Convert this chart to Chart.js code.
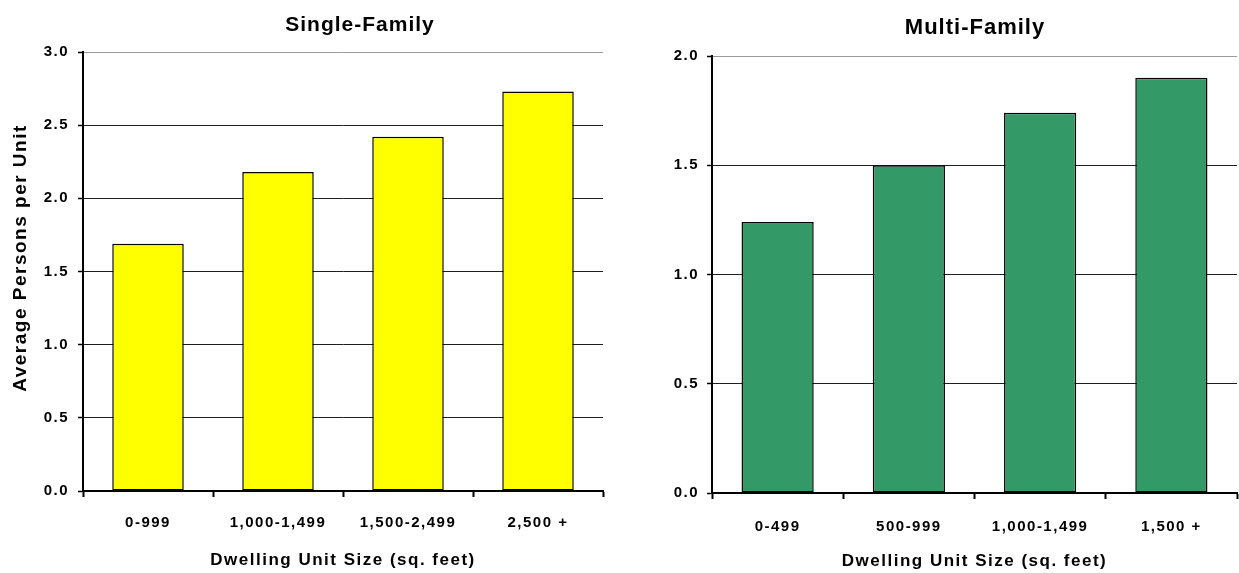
<!DOCTYPE html>
<html>
<head>
<meta charset="utf-8">
<script src="https://cdn.jsdelivr.net/npm/chart.js@4.4.1/dist/chart.umd.min.js"></script>
<style>
  html, body { margin: 0; padding: 0; background: #fff; width: 1239px; height: 573px; overflow: hidden; }
  .panel { position: absolute; top: 0; height: 573px; }
</style>
</head>
<body>
<div class="panel" style="left:0;width:620px"><canvas id="single" width="620" height="573"></canvas></div>
<div class="panel" style="left:620px;width:619px"><canvas id="multi" width="619" height="573"></canvas></div>
<script>
// Average persons per dwelling unit, by unit size
const singleFamilySizes = ['0-999', '1,000-1,499', '1,500-2,499', '2,500 +'];
const singleFamilyPersons = [1.69, 2.18, 2.42, 2.73];
const singleFamilyTicks = [0, 0.5, 1.0, 1.5, 2.0, 2.5, 3.0];

const multiFamilySizes = ['0-499', '500-999', '1,000-1,499', '1,500 +'];
const multiFamilyPersons = [1.24, 1.50, 1.74, 1.90];
const multiFamilyTicks = [0, 0.5, 1.0, 1.5, 2.0];

const FONT = "'Liberation Sans', Arial, Helvetica, sans-serif";
Chart.defaults.font.family = FONT;
Chart.defaults.font.weight = 'bold';
Chart.defaults.color = '#000';

// Slightly tracked lettering for all chart text
const tracking = {
  id: 'tracking',
  beforeDraw(chart) { chart.ctx.letterSpacing = '1.5px'; }
};

// Panel heading and the vertical value-axis caption
const panelText = {
  id: 'panelText',
  afterDraw(chart, args, opts) {
    const ctx = chart.ctx;
    (opts.items || []).forEach(it => {
      ctx.save();
      ctx.letterSpacing = it.spacing;
      ctx.font = 'bold ' + it.size + 'px ' + FONT;
      ctx.fillStyle = '#000';
      ctx.textAlign = 'center';
      ctx.textBaseline = 'middle';
      ctx.translate(it.x, it.y);
      if (it.rotate) ctx.rotate(it.rotate);
      ctx.fillText(it.text, 0, 0);
      ctx.restore();
    });
  }
};

function makeChart(id, cfg) {
  const top = cfg.ticks[cfg.ticks.length - 1];
  return new Chart(document.getElementById(id), {
    type: 'bar',
    data: {
      labels: cfg.labels,
      datasets: [{
        data: cfg.values,
        backgroundColor: cfg.color,
        borderColor: '#000',
        borderWidth: 1.5,
        borderSkipped: false,
        barPercentage: 0.55,
        categoryPercentage: 1.0
      }]
    },
    options: {
      responsive: false,
      animation: false,
      devicePixelRatio: 1,
      layout: { padding: { top: cfg.top, right: cfg.right, left: 0, bottom: 0 } },
      plugins: {
        legend: { display: false },
        tooltip: { enabled: false },
        panelText: { items: cfg.texts }
      },
      scales: {
        x: {
          offset: true,
          grid: {
            offset: true,
            drawOnChartArea: true,
            color: c => (c.index === cfg.labels.length ? '#9a9a9a' : 'rgba(0,0,0,0)'),
            lineWidth: 1,
            tickColor: '#000',
            tickLength: 6,
            tickWidth: 2
          },
          border: { display: true, color: '#000', width: 2 },
          ticks: {
            color: '#000',
            font: { size: 15, weight: 'bold' },
            padding: cfg.xTickPad,
            maxRotation: 0,
            autoSkip: false
          },
          title: {
            display: true,
            text: 'Dwelling Unit Size (sq. feet)',
            color: '#000',
            font: { size: 17, weight: 'bold' },
            padding: { top: 0, bottom: cfg.xTitlePad }
          },
          afterFit: s => { s.height = cfg.xHeight; }
        },
        y: {
          min: 0,
          max: top,
          afterBuildTicks: s => { s.ticks = cfg.ticks.map(v => ({ value: v })); },
          grid: {
            color: c => (c.tick && c.tick.value === top ? '#9a9a9a' : '#1e1e1e'),
            lineWidth: 1,
            tickColor: '#000',
            tickLength: 5,
            tickWidth: 1.5
          },
          border: { display: true, color: '#000', width: 2 },
          ticks: {
            color: '#000',
            font: { size: 15, weight: 'bold' },
            padding: cfg.yTickPad,
            callback: v => Number(v).toFixed(1)
          },
          afterFit: s => { s.width = cfg.yWidth; }
        }
      }
    },
    plugins: [tracking, panelText]
  });
}

makeChart('single', {
  labels: singleFamilySizes,
  values: singleFamilyPersons,
  ticks: singleFamilyTicks,
  color: '#ffff00',
  texts: [
    { text: 'Single-Family', x: 360, y: 25, size: 21, spacing: '1px' },
    { text: 'Average Persons per Unit', x: 21, y: 258, size: 19, spacing: '1.5px', rotate: -Math.PI / 2 }
  ],
  top: 52, right: 17, yWidth: 83, xHeight: 82,
  xTickPad: 17, xTitlePad: 2, yTickPad: 9
});

makeChart('multi', {
  labels: multiFamilySizes,
  values: multiFamilyPersons,
  ticks: multiFamilyTicks,
  color: '#339966',
  texts: [
    { text: 'Multi-Family', x: 355, y: 28, size: 22, spacing: '1px' }
  ],
  top: 56, right: 2, yWidth: 92, xHeight: 80,
  xTickPad: 19, xTitlePad: 1, yTickPad: 8
});
</script>
</body>
</html>
